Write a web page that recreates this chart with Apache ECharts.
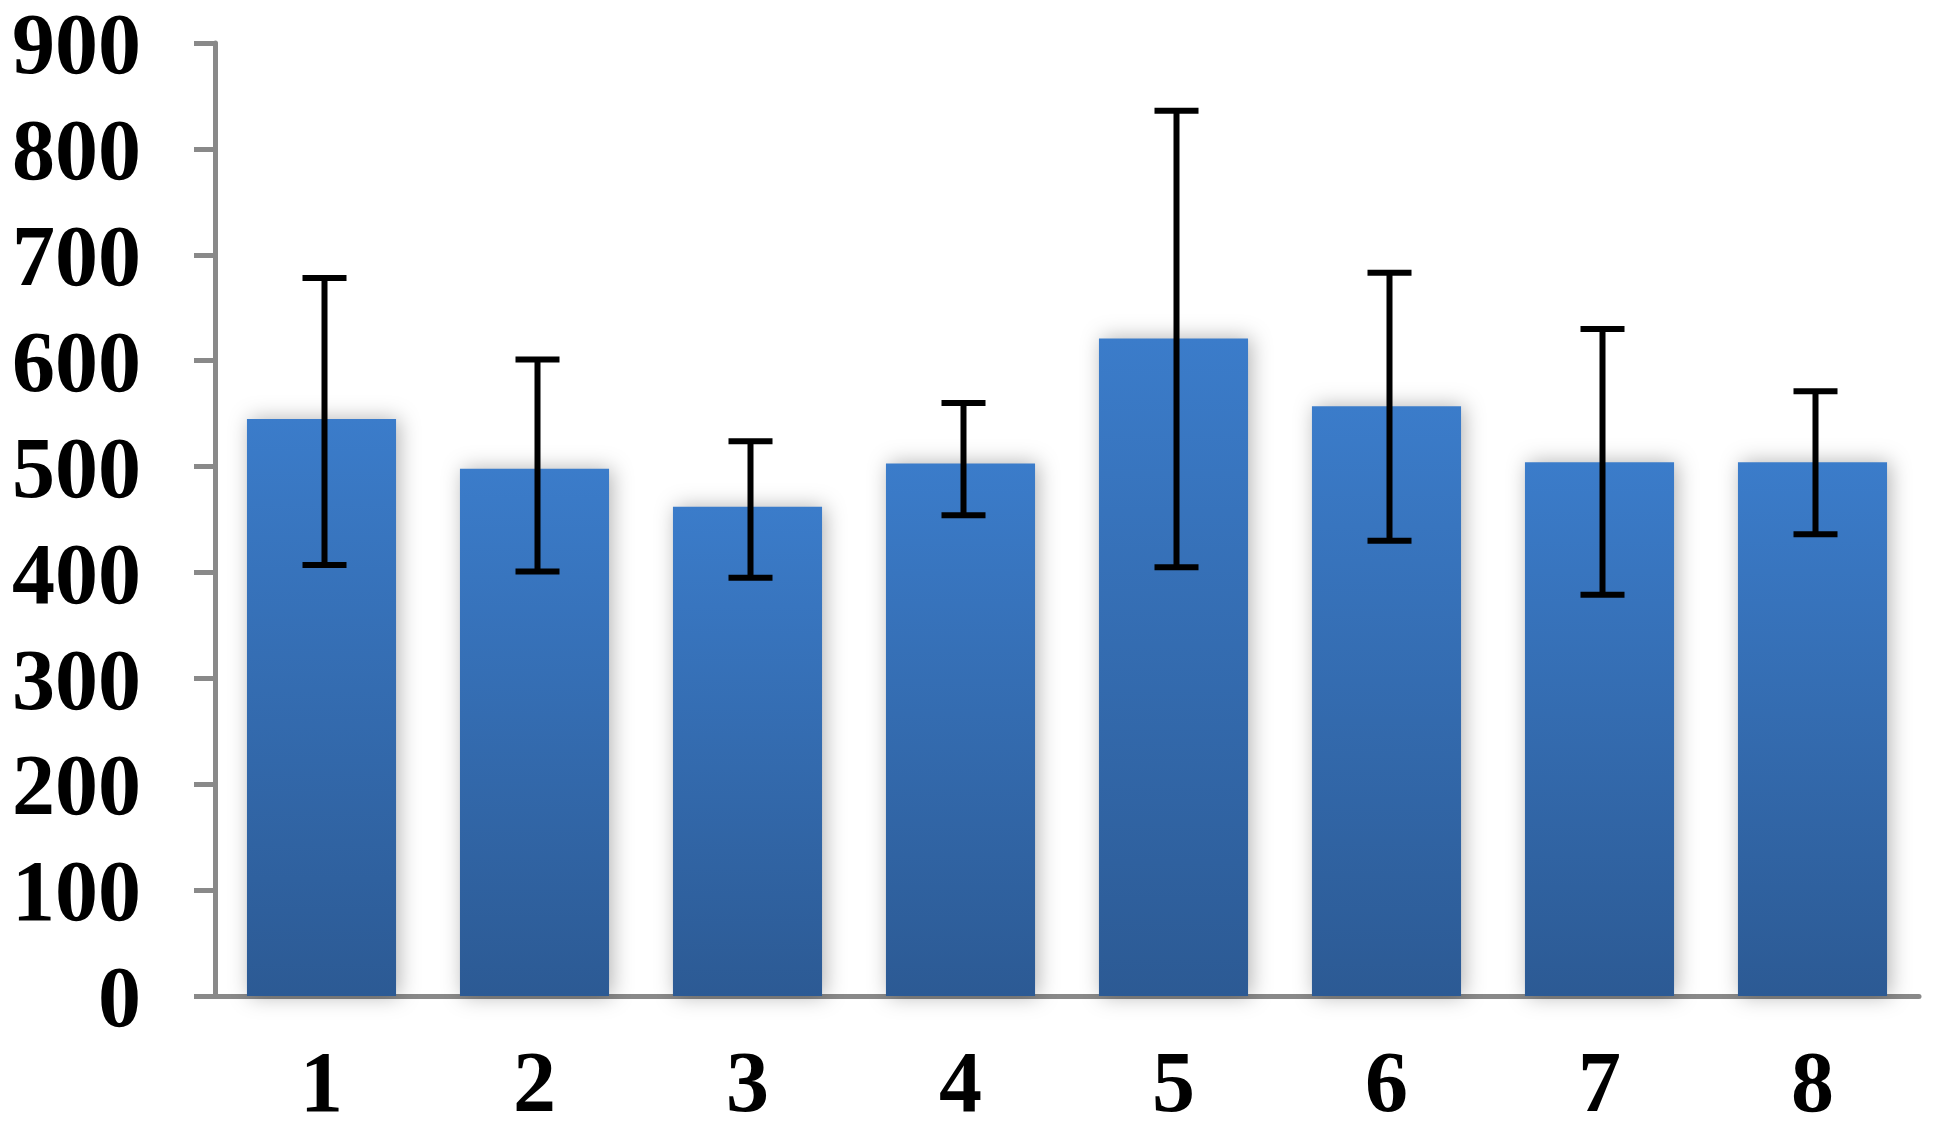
<!DOCTYPE html>
<html>
<head>
<meta charset="utf-8">
<script src="https://cdn.jsdelivr.net/npm/echarts@6/dist/echarts.min.js"></script>
<style>
html,body{margin:0;padding:0;background:#fff;}
#chart{width:1942px;height:1142px;}
</style>
</head>
<body>
<div id="chart"></div>
<script>
const categories = ['1', '2', '3', '4', '5', '6', '7', '8'];
const means = [545, 498, 462, 503, 621, 557, 504, 504];
const lows  = [407, 401, 395, 454, 405, 430, 379, 436];
const highs = [678, 601, 524, 560, 836, 683, 630, 571];
const yTicks = [0, 100, 200, 300, 400, 500, 600, 700, 800, 900];

const errData = categories.map((c, i) => [i, lows[i], highs[i]]);

const chart = echarts.init(document.getElementById('chart'));
const labelFont = {
  fontFamily: '"Liberation Serif", "Times New Roman", serif',
  fontWeight: 'bold',
  fontSize: 86,
  color: '#000'
};
chart.setOption({
  animation: false,
  backgroundColor: '#fff',
  grid: { left: 215, right: 23, top: 43, bottom: 146, containLabel: false },
  xAxis: {
    type: 'category',
    data: categories,
    axisLine: { show: true, lineStyle: { color: '#898989', width: 5 } },
    axisTick: { show: false },
    axisLabel: Object.assign({ margin: 50 }, labelFont),
    splitLine: { show: false }
  },
  yAxis: {
    type: 'value',
    min: yTicks[0],
    max: yTicks[yTicks.length - 1],
    interval: 100,
    axisLine: { show: true, lineStyle: { color: '#898989', width: 5 } },
    axisTick: { show: true, length: 21, lineStyle: { color: '#898989', width: 5 } },
    axisLabel: Object.assign({ margin: 74, verticalAlign: 'top', lineHeight: 16 }, labelFont),
    splitLine: { show: false }
  },
  series: [
    {
      type: 'bar',
      data: means,
      barWidth: '70%',
      z: 2,
      itemStyle: {
        color: new echarts.graphic.LinearGradient(0, 0, 0, 1, [
          { offset: 0, color: '#3B7CCA' },
          { offset: 1, color: '#2C5A94' }
        ], false),
        shadowColor: 'rgba(0,0,0,0.3)',
        shadowBlur: 20,
        shadowOffsetX: 3,
        shadowOffsetY: 0
      }
    },
    {
      type: 'custom',
      data: errData,
      z: 5,
      encode: { x: 0, y: [1, 2] },
      renderItem: function (params, api) {
        const idx = api.value(0);
        const pHi = api.coord([idx, api.value(2)]);
        const pLo = api.coord([idx, api.value(1)]);
        const cx = pHi[0] + 3;
        const hw = 22;
        const st = { stroke: '#000', lineWidth: 6 };
        return {
          type: 'group',
          children: [
            { type: 'line', shape: { x1: cx, y1: pHi[1], x2: cx, y2: pLo[1] }, style: st },
            { type: 'line', shape: { x1: cx - hw, y1: pHi[1], x2: cx + hw, y2: pHi[1] }, style: st },
            { type: 'line', shape: { x1: cx - hw, y1: pLo[1], x2: cx + hw, y2: pLo[1] }, style: st }
          ]
        };
      }
    }
  ]
});
</script>
</body>
</html>
